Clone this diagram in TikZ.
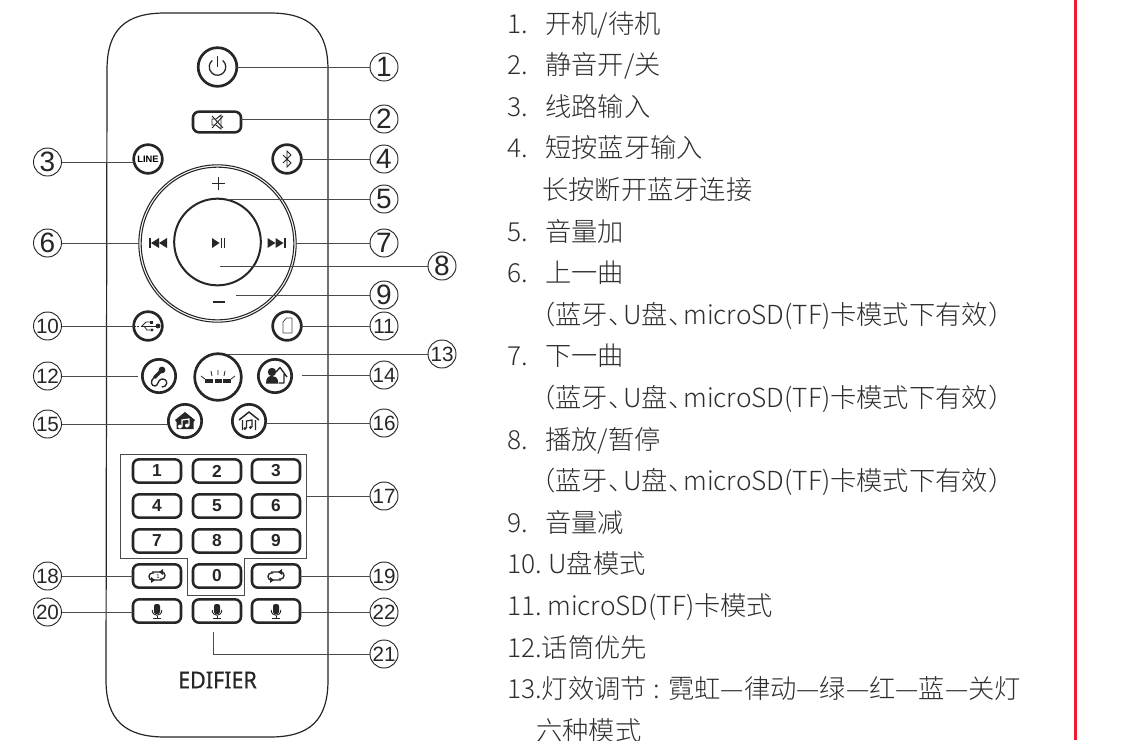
\documentclass[tikz,border=0pt]{standalone}
\usepackage{fontspec}
\setmainfont{Noto Sans CJK SC Light}
\newfontfamily\lab{Liberation Sans}
\newfontfamily\brand[FakeBold=.5,FakeStretch=.92]{Noto Sans}
\definecolor{ink}{HTML}{262626}
\definecolor{txt}{HTML}{2E2E2E}
\definecolor{lead}{HTML}{4A4A4A}
\definecolor{rulered}{HTML}{EE1C2E}
\tikzset{
 numlabel/.style={circle,draw=ink,line width=.7pt,fill=white,minimum size=21pt,inner sep=0pt,outer sep=0pt,text=ink,font=\lab\fontsize{21}{21}\selectfont},
 numsmall/.style={numlabel,font=\lab\fontsize{15.5}{16}\selectfont},
 roundbtn/.style={circle,draw=ink,line width=2pt,inner sep=0pt,outer sep=0pt,fill=white},
 keybtn/.style={rectangle,rounded corners=4.5pt,draw=ink,line width=1.9pt,minimum width=36pt,minimum height=17.5pt,inner sep=0pt,outer sep=0pt,fill=white,text=ink,font=\lab\bfseries\fontsize{13}{13}\selectfont},
 leader/.style={draw=lead,line width=.75pt},
 item/.style={anchor=base west,inner sep=0pt,text=txt,font=\fontsize{19.7}{20}\selectfont},
 glyph/.style={draw=ink,line width=.6pt},
 micglyph/.pic={
  \fill[ink,rounded corners=1.6pt] (-3,-7) rectangle (3,3);
  \draw[ink,line width=.7pt] (-4.8,-1) .. controls (-4.8,6) and (4.8,6) .. (4.8,-1);
  \draw[ink,line width=.7pt] (0,5) -- (0,7.5) (-4,7.5) -- (4,7.5);
 },
 repeatglyph/.pic={
  \draw[ink,line width=1pt,rounded corners=2.5pt] (-5,-4) -- (8,-4) -- (8,3) -- (3,3);
  \draw[ink,line width=1pt,rounded corners=2.5pt] (5,4) -- (-8,4) -- (-8,-3) -- (-3,-3);
  \fill[ink] (6,-7) -- ++(0,6) -- ++(-4,-3) -- cycle;
  \fill[ink] (-6,1) -- ++(0,6) -- ++(4,-3) -- cycle;
 },
}
\newcommand{\dn}{、\hspace{-.42em}}
\newcommand{\effect}{（蓝牙\dn U盘\dn microSD(TF)卡模式下有效）}
\begin{document}
\begin{tikzpicture}[x=.75pt,y=-.75pt]
\clip (0,0) rectangle (1126,740);
\fill[white] (0,0) rectangle (1126,740);
% body
\draw[ink,line width=.9pt] (107,70) .. controls (107,30) and (125,13) .. (165,13) -- (270,13) .. controls (310,13) and (328,30) .. (328,70) -- (328,680) .. controls (328,720) and (310,737) .. (270,737) -- (165,737) .. controls (125,737) and (106,720) .. (106,680) -- cycle;
\draw[lead,line width=.75pt] (120,454) -- (306,454) -- (306,558) -- (244,558) -- (244,595) -- (187,595) -- (187,558) -- (120,558) -- cycle;
% buttons
\node[roundbtn,minimum size=29pt] (bpower) at (217.5,67) {};
\node[keybtn,minimum width=36pt,minimum height=15.5pt] (bmute) at (217,122) {};
\node[roundbtn,minimum size=21.5pt] (bline) at (148,159) {\lab\bfseries\fontsize{7}{7}\selectfont LINE};
\node[roundbtn,minimum size=21.5pt] (bblue) at (287,159) {};
\node[circle,draw=ink,line width=.8pt,minimum size=118pt,inner sep=0pt,outer sep=0pt] (ringa) at (217.5,243.5) {};
\node[circle,draw=ink,line width=.8pt,minimum size=114.5pt,inner sep=0pt,outer sep=0pt] (ringb) at (217.5,243.5) {};
\node[circle,draw=ink,line width=1.5pt,minimum size=65pt,inner sep=0pt,outer sep=0pt] (binner) at (217.5,242) {};
\node[roundbtn,minimum size=21.5pt] (busb) at (148,326) {};
\node[roundbtn,minimum size=21.5pt] (bsd) at (287,326) {};
\node[roundbtn,minimum size=25pt] (bmic) at (159,376) {};
\node[roundbtn,minimum size=35pt] (blight) at (218,377) {};
\node[roundbtn,minimum size=25pt] (bperson) at (275,376) {};
\node[roundbtn,minimum size=25pt] (bhomea) at (185,421) {};
\node[roundbtn,minimum size=25pt] (bhomeb) at (249,421) {};
\node[keybtn] (k1) at (157,471) {1};
\node[keybtn] (k2) at (217,471) {2};
\node[keybtn] (k3) at (276,471) {3};
\node[keybtn] (k4) at (157,506) {4};
\node[keybtn] (k5) at (217,506) {5};
\node[keybtn] (k6) at (276,506) {6};
\node[keybtn] (k7) at (157,541) {7};
\node[keybtn] (k8) at (217,541) {8};
\node[keybtn] (k9) at (276,541) {9};
\node[keybtn] (krepa) at (157,576) {};
\node[keybtn] (k0) at (217,576) {0};
\node[keybtn] (krepb) at (276,576) {};
\node[keybtn] (kmica) at (157,611) {};
\node[keybtn] (kmicb) at (217,611) {};
\node[keybtn] (kmicc) at (276,611) {};
\node[text=ink,font=\brand\fontsize{17.5}{18}\selectfont,inner sep=0pt] (logo) at (217.5,680) {EDIFIER};
% glyphs
\begin{scope}[shift={(217.5,67)}]
\draw[ink,line width=.95pt] (5.2,-6.5) arc[start angle=-51,end angle=231,radius=8.3];
\draw[ink,line width=.95pt] (0,-11) -- (0,0);
\end{scope}
\begin{scope}[shift={(217,122)}]
\draw[glyph,line width=.7pt] (-5,-3) -- (-1,-3) -- (4,-7) -- (4,7) -- (-1,3) -- (-5,3) -- cycle;
\draw[glyph,line width=.7pt] (-5,-6) -- (6,6) (6,-6) -- (-5,6);
\end{scope}
\draw[glyph,line width=.7pt] (283,155) -- (291,163) -- (287,167) -- (287,151) -- (291,155) -- (283,163);
\draw[ink,line width=1.2pt] (218.5,177) -- (218.5,190) (212,183.5) -- (225,183.5);
\fill[ink] (212.5,301) rectangle (225,303);
\begin{scope}[shift={(158,243)}]
\fill[ink] (-9,-5) rectangle (-7,5);
\fill[ink] (-7,0) -- (1,-5) -- (1,5) -- cycle;
\fill[ink] (1,0) -- (9,-5) -- (9,5) -- cycle;
\end{scope}
\begin{scope}[shift={(276.5,243)}]
\fill[ink] (9,-5) rectangle (7,5);
\fill[ink] (7,0) -- (-1,-5) -- (-1,5) -- cycle;
\fill[ink] (-1,0) -- (-9,-5) -- (-9,5) -- cycle;
\end{scope}
\begin{scope}[shift={(218.5,243)}]
\fill[ink] (-6.5,-5) -- (1,0) -- (-6.5,5) -- cycle;
\fill[ink] (2,-5) rectangle (3.8,5);
\fill[ink] (5,-5) rectangle (6.8,5);
\end{scope}
\begin{scope}[shift={(148,326)}]
\draw[glyph,dash pattern=on 1.5pt off 1pt] (-14,0) -- (-7,0);
\draw[glyph] (-7,0) -- (8,0);
\fill[ink] (10,0) circle (2.4);
\draw[glyph] (-6,0) -- (-2,-4) -- (2,-4);
\fill[ink] (2,-5.5) rectangle (5,-2.5);
\draw[glyph] (-4,0) -- (-1,4) -- (3,4);
\fill[ink] (4,4) circle (1.6);
\end{scope}
\draw[glyph,draw=lead,line join=round] (283,322) -- (286.5,318) -- (292,318) -- (292,333) -- (283,333) -- cycle;
\begin{scope}[shift={(159,376)}]
\draw[ink,line width=2.6pt,line cap=round] (-4.5,1.5) -- (1,-4);
\fill[ink] (3,-6) circle (3.4);
\draw[ink,line width=1pt] (-5,1.5) .. controls (-9,5) and (-8,10) .. (-4,10) .. controls (-1,10) and (-1,4) .. (2,3.2) .. controls (5,2.5) and (8,4) .. (7.7,7.5) .. controls (7.5,10) and (5,11) .. (2.7,11);
\end{scope}
\begin{scope}[shift={(218,377)}]
\fill[ink] (-13,2) rectangle (-5,6);
\fill[ink] (-3.5,2) rectangle (3.5,6);
\fill[ink] (5,2) rectangle (13,6);
\draw[glyph] (0,-7) -- (0,-2) (-7,-6) -- (-6,-1) (7,-6) -- (6,-1) (-17,-1) -- (-13,2) (17,-1) -- (13,2);
\end{scope}
\begin{scope}[shift={(275,376)}]
\fill[ink] (-3,-4) circle (4.2);
\fill[ink] (-9,7.5) .. controls (-9,1) and (-6,0) .. (-3,0) .. controls (0,0) and (3,1) .. (3.5,7.5) -- cycle;
\draw[ink,line width=1pt,line join=round] (1,-4) -- (5,-8.5) -- (12,1) (9,-2) -- (9,7) -- (4,7);
\end{scope}
\begin{scope}[shift={(185,421)}]
\fill[ink] (-10,-1) -- (0,-9) -- (10,-1) -- (8.5,1) -- (8.5,8) -- (-8.5,8) -- (-8.5,1) -- cycle;
\draw[white,line width=.9pt] (-3,5.5) -- (-3,-1) -- (4,-2) -- (4,4.5);
\fill[white] (-5,5.5) circle (2) (2,4.5) circle (2);
\end{scope}
\begin{scope}[shift={(249,421)}]
\draw[ink,line width=1.1pt,line join=round] (-10,-1) -- (0,-9) -- (10,-1) (-6.5,-1) -- (-6.5,9) (6.5,-1) -- (6.5,9);
\draw[ink,line width=.9pt] (-2.5,7) -- (-2.5,0) -- (3,-1) -- (3,6);
\fill[ink] (-4,7.5) circle (1.7) (1.5,6.5) circle (1.7);
\end{scope}
\pic at (157,576) {repeatglyph};
\node[inner sep=0pt,text=ink,font=\lab\fontsize{4.5}{5}\selectfont] (rone) at (158,576) {1};
\pic at (276,576) {repeatglyph};
\pic at (157,611) {micglyph};
\pic at (217,611) {micglyph};
\pic at (276,611) {micglyph};
% number labels
\node[numlabel] (n1) at (384,67) {1};
\node[numlabel] (n2) at (384,119) {2};
\node[numlabel] (n3) at (47.5,162) {3};
\node[numlabel] (n4) at (384,159) {4};
\node[numlabel] (n5) at (384,199) {5};
\node[numlabel] (n6) at (47.5,243) {6};
\node[numlabel] (n7) at (384,243) {7};
\node[numlabel] (n8) at (442,266) {8};
\node[numlabel] (n9) at (384,295) {9};
\node[numsmall] (n10) at (47.5,326) {10};
\node[numsmall] (n11) at (384,326) {11};
\node[numsmall] (n12) at (47.5,376) {12};
\node[numsmall] (n13) at (442,354) {13};
\node[numsmall] (n14) at (384,375) {14};
\node[numsmall] (n15) at (47.5,424) {15};
\node[numsmall] (n16) at (384,423) {16};
\node[numsmall] (n17) at (384,496) {17};
\node[numsmall] (n18) at (47.5,576) {18};
\node[numsmall] (n19) at (384,576) {19};
\node[numsmall] (n20) at (47.5,612) {20};
\node[numsmall] (n21) at (384,654) {21};
\node[numsmall] (n22) at (384,612) {22};
% free ends
\coordinate (e5) at (227,199);
\coordinate (e8) at (220,266);
\coordinate (e9) at (236,295);
\coordinate (e12) at (138,376);
\coordinate (e13) at (227,354);
\coordinate (e14) at (302,375);
\coordinate (e17) at (306,496);
\coordinate (e21) at (213,632);
\coordinate (c21) at (213,654);
% connectors
\path[leader] (bpower.east) -- (n1.west);
\path[leader] (bmute.east |- n2.west) -- (n2.west);
\path[leader] (n3.east) -- (bline.west |- n3.east);
\path[leader] (bblue.east) -- (n4.west);
\path[leader] (e5) -- (n5.west);
\path[leader] (n6.east) -- (ringa.west |- n6.east);
\path[leader] (ringa.east |- n7.west) -- (n7.west);
\path[leader] (e8) -- (n8.west);
\path[leader] (e9) -- (n9.west);
\path[leader] (n10.east) -- (busb.west);
\path[leader] (bsd.east) -- (n11.west);
\path[leader] (n12.east) -- (e12);
\path[leader] (e13) -- (n13.west);
\path[leader] (e14) -- (n14.west);
\path[leader] (n15.east) -- (bhomea.west |- n15.east);
\path[leader] (bhomeb.east |- n16.west) -- (n16.west);
\path[leader] (e17) -- (n17.west);
\path[leader] (n18.east) -- (krepa.west);
\path[leader] (krepb.east) -- (n19.west);
\path[leader] (n20.east) -- (kmica.west |- n20.east);
\path[leader] (kmicc.east |- n22.west) -- (n22.west);
\path[leader] (e21) -- (c21) -- (n21.west);
% text
\node[item] (t1) at (507,33) {1.};
\node[item] (x1) at (545,33) {开机/待机};
\node[item] (t2) at (507,74.6) {2.};
\node[item] (x2) at (545,74.6) {静音开/关};
\node[item] (t3) at (507,116.2) {3.};
\node[item] (x3) at (545,116.2) {线路输入};
\node[item] (t4) at (507,157.8) {4.};
\node[item] (x4) at (545,157.8) {短按蓝牙输入};
\node[item] (x4b) at (542,199.4) {长按断开蓝牙连接};
\node[item] (t5) at (507,241) {5.};
\node[item] (x5) at (545,241) {音量加};
\node[item] (t6) at (507,282.6) {6.};
\node[item] (x6) at (545,282.6) {上一曲};
\node[item] (x6b) at (529,324.2) {\effect};
\node[item] (t7) at (507,365.8) {7.};
\node[item] (x7) at (545,365.8) {下一曲};
\node[item] (x7b) at (529,407.4) {\effect};
\node[item] (t8) at (507,449) {8.};
\node[item] (x8) at (545,449) {播放/暂停};
\node[item] (x8b) at (529,490.6) {\effect};
\node[item] (t9) at (507,532.2) {9.};
\node[item] (x9) at (545,532.2) {音量减};
\node[item] (t10) at (507,573.8) {10.};
\node[item] (x10) at (548,573.8) {U盘模式};
\node[item] (t11) at (507,615.4) {11.};
\node[item] (x11) at (547,615.4) {microSD(TF)卡模式};
\node[item] (t12) at (507,657) {12.话筒优先};
\node[item] (t13) at (507,698.6) {13.灯效调节\hspace{5pt}:\hspace{6pt}霓虹—律动—绿—红—蓝—关灯};
\node[item] (x13b) at (536,740.2) {六种模式};
% margin rule
\fill[rulered] (1073.5,0) rectangle (1077,740);
\end{tikzpicture}
\end{document}
